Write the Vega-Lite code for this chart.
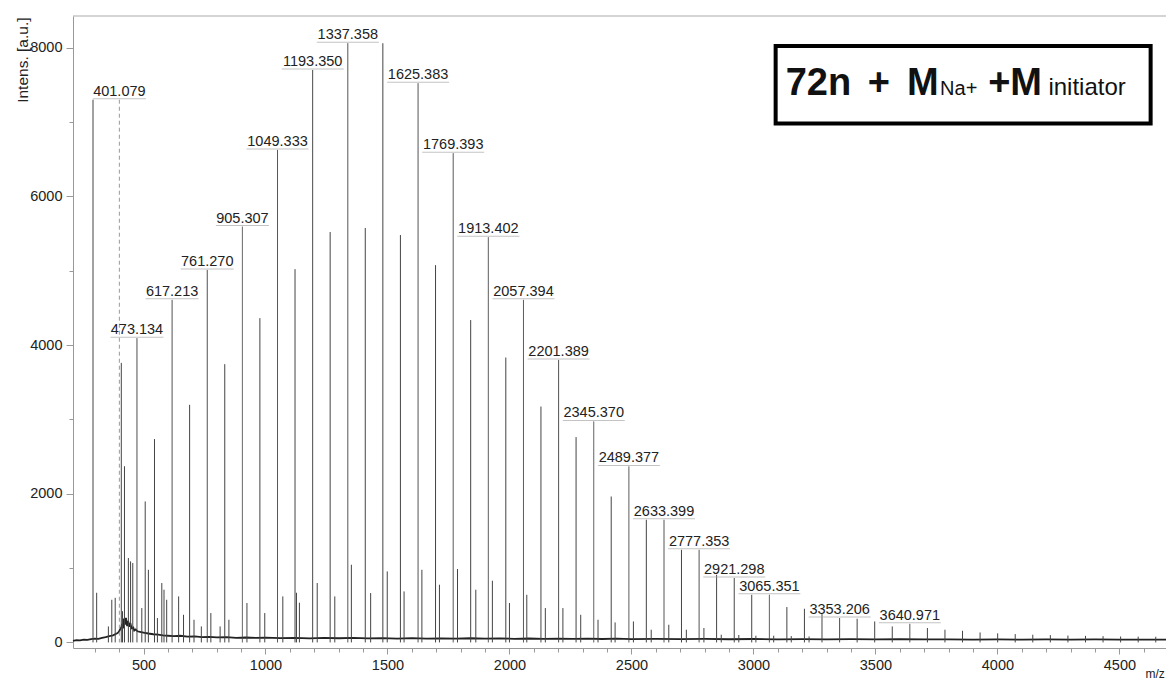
{
  "$schema": "https://vega.github.io/schema/vega-lite/v6.json",
  "width": 1093,
  "height": 632,
  "autosize": "none",
  "padding": {"left": 73, "top": 16, "right": 0, "bottom": 31},
  "background": "white",
  "config": {"view": {"stroke": null}, "font": "Liberation Sans", "axis": {"labelOverlap": false}},
  "datasets": {
    "baseline": [
      {"mz": 211, "intensity": 20}, {"mz": 225, "intensity": 30}, {"mz": 240, "intensity": 28}, {"mz": 255, "intensity": 38},
      {"mz": 270, "intensity": 35}, {"mz": 285, "intensity": 45}, {"mz": 300, "intensity": 50}, {"mz": 315, "intensity": 48},
      {"mz": 330, "intensity": 62}, {"mz": 345, "intensity": 70}, {"mz": 360, "intensity": 85}, {"mz": 375, "intensity": 95},
      {"mz": 390, "intensity": 120}, {"mz": 395, "intensity": 130}, {"mz": 400, "intensity": 150}, {"mz": 405, "intensity": 180},
      {"mz": 410, "intensity": 210}, {"mz": 412, "intensity": 250}, {"mz": 416, "intensity": 190}, {"mz": 420, "intensity": 320},
      {"mz": 424, "intensity": 240}, {"mz": 428, "intensity": 330}, {"mz": 433, "intensity": 220}, {"mz": 437, "intensity": 290},
      {"mz": 442, "intensity": 210}, {"mz": 446, "intensity": 260}, {"mz": 451, "intensity": 190}, {"mz": 458, "intensity": 200},
      {"mz": 462, "intensity": 160}, {"mz": 468, "intensity": 175}, {"mz": 475, "intensity": 150}, {"mz": 490, "intensity": 140},
      {"mz": 505, "intensity": 130}, {"mz": 520, "intensity": 120}, {"mz": 540, "intensity": 110}, {"mz": 560, "intensity": 105},
      {"mz": 580, "intensity": 95}, {"mz": 600, "intensity": 90}, {"mz": 625, "intensity": 85}, {"mz": 650, "intensity": 90},
      {"mz": 680, "intensity": 78}, {"mz": 710, "intensity": 82}, {"mz": 740, "intensity": 72}, {"mz": 770, "intensity": 75},
      {"mz": 800, "intensity": 68}, {"mz": 840, "intensity": 72}, {"mz": 880, "intensity": 62}, {"mz": 920, "intensity": 66},
      {"mz": 960, "intensity": 60}, {"mz": 1000, "intensity": 64}, {"mz": 1060, "intensity": 58}, {"mz": 1120, "intensity": 62},
      {"mz": 1180, "intensity": 55}, {"mz": 1240, "intensity": 60}, {"mz": 1300, "intensity": 56}, {"mz": 1360, "intensity": 60},
      {"mz": 1420, "intensity": 54}, {"mz": 1480, "intensity": 58}, {"mz": 1540, "intensity": 52}, {"mz": 1600, "intensity": 57},
      {"mz": 1660, "intensity": 52}, {"mz": 1720, "intensity": 55}, {"mz": 1780, "intensity": 50}, {"mz": 1840, "intensity": 56},
      {"mz": 1900, "intensity": 50}, {"mz": 1960, "intensity": 54}, {"mz": 2020, "intensity": 49}, {"mz": 2080, "intensity": 53},
      {"mz": 2140, "intensity": 48}, {"mz": 2200, "intensity": 52}, {"mz": 2260, "intensity": 47}, {"mz": 2320, "intensity": 51},
      {"mz": 2380, "intensity": 46}, {"mz": 2440, "intensity": 50}, {"mz": 2500, "intensity": 45}, {"mz": 2600, "intensity": 48},
      {"mz": 2700, "intensity": 44}, {"mz": 2800, "intensity": 47}, {"mz": 2900, "intensity": 43}, {"mz": 3000, "intensity": 46},
      {"mz": 3100, "intensity": 42}, {"mz": 3200, "intensity": 45}, {"mz": 3300, "intensity": 41}, {"mz": 3400, "intensity": 44},
      {"mz": 3500, "intensity": 40}, {"mz": 3600, "intensity": 43}, {"mz": 3700, "intensity": 40}, {"mz": 3800, "intensity": 42},
      {"mz": 3900, "intensity": 39}, {"mz": 4000, "intensity": 42}, {"mz": 4100, "intensity": 38}, {"mz": 4200, "intensity": 41},
      {"mz": 4300, "intensity": 38}, {"mz": 4400, "intensity": 40}, {"mz": 4500, "intensity": 37}, {"mz": 4600, "intensity": 39},
      {"mz": 4691, "intensity": 37}
    ],
    "peaks": [
      {"mz": 293, "intensity": 7300}, {"mz": 308, "intensity": 668}, {"mz": 356, "intensity": 215}, {"mz": 370, "intensity": 574},
      {"mz": 384, "intensity": 600}, {"mz": 409, "intensity": 3760}, {"mz": 414, "intensity": 420}, {"mz": 422, "intensity": 2370},
      {"mz": 438, "intensity": 1135}, {"mz": 447, "intensity": 1090}, {"mz": 456, "intensity": 1068}, {"mz": 493, "intensity": 462},
      {"mz": 507, "intensity": 1896}, {"mz": 520, "intensity": 977}, {"mz": 545, "intensity": 2735}, {"mz": 557, "intensity": 328},
      {"mz": 575, "intensity": 799}, {"mz": 584, "intensity": 709}, {"mz": 595, "intensity": 574}, {"mz": 644, "intensity": 619},
      {"mz": 664, "intensity": 372}, {"mz": 689, "intensity": 3196}, {"mz": 707, "intensity": 305}, {"mz": 737, "intensity": 215},
      {"mz": 776, "intensity": 395}, {"mz": 814, "intensity": 215}, {"mz": 833, "intensity": 3743}, {"mz": 850, "intensity": 305},
      {"mz": 924, "intensity": 530}, {"mz": 977, "intensity": 4362}, {"mz": 997, "intensity": 395}, {"mz": 1071, "intensity": 619},
      {"mz": 1121, "intensity": 5021}, {"mz": 1127, "intensity": 668}, {"mz": 1139, "intensity": 534}, {"mz": 1212, "intensity": 799},
      {"mz": 1265, "intensity": 5520}, {"mz": 1284, "intensity": 619}, {"mz": 1352, "intensity": 1045}, {"mz": 1409, "intensity": 5575},
      {"mz": 1431, "intensity": 664}, {"mz": 1481, "intensity": 8060}, {"mz": 1499, "intensity": 955}, {"mz": 1553, "intensity": 5480},
      {"mz": 1568, "intensity": 686}, {"mz": 1641, "intensity": 977}, {"mz": 1697, "intensity": 5075}, {"mz": 1713, "intensity": 776},
      {"mz": 1787, "intensity": 987}, {"mz": 1841, "intensity": 4336}, {"mz": 1862, "intensity": 709}, {"mz": 1930, "intensity": 830},
      {"mz": 1985, "intensity": 3832}, {"mz": 2000, "intensity": 530}, {"mz": 2071, "intensity": 641}, {"mz": 2129, "intensity": 3173},
      {"mz": 2147, "intensity": 462}, {"mz": 2219, "intensity": 462}, {"mz": 2273, "intensity": 2762}, {"mz": 2292, "intensity": 372},
      {"mz": 2363, "intensity": 305}, {"mz": 2417, "intensity": 1963}, {"mz": 2433, "intensity": 269}, {"mz": 2508, "intensity": 282},
      {"mz": 2561, "intensity": 1650}, {"mz": 2581, "intensity": 171}, {"mz": 2653, "intensity": 238}, {"mz": 2705, "intensity": 1246},
      {"mz": 2725, "intensity": 171}, {"mz": 2797, "intensity": 194}, {"mz": 2849, "intensity": 910}, {"mz": 2868, "intensity": 104},
      {"mz": 2940, "intensity": 100}, {"mz": 2993, "intensity": 641}, {"mz": 3010, "intensity": 90}, {"mz": 3083, "intensity": 90},
      {"mz": 3137, "intensity": 476}, {"mz": 3155, "intensity": 85}, {"mz": 3209, "intensity": 453}, {"mz": 3228, "intensity": 80},
      {"mz": 3281, "intensity": 382}, {"mz": 3425, "intensity": 319}, {"mz": 3497, "intensity": 282}, {"mz": 3569, "intensity": 215},
      {"mz": 3713, "intensity": 194}, {"mz": 3785, "intensity": 171}, {"mz": 3857, "intensity": 157}, {"mz": 3929, "intensity": 134},
      {"mz": 4001, "intensity": 122}, {"mz": 4073, "intensity": 112}, {"mz": 4145, "intensity": 104}, {"mz": 4217, "intensity": 98},
      {"mz": 4289, "intensity": 92}, {"mz": 4361, "intensity": 88}, {"mz": 4433, "intensity": 84}, {"mz": 4505, "intensity": 80},
      {"mz": 4577, "intensity": 78}, {"mz": 4649, "intensity": 76}
    ],
    "labels": [
      {"mz": 401.079, "intensity": 7300, "label": "401.079"},
      {"mz": 473.134, "intensity": 4093, "label": "473.134"},
      {"mz": 617.213, "intensity": 4608, "label": "617.213"},
      {"mz": 761.27, "intensity": 5011, "label": "761.270"},
      {"mz": 905.307, "intensity": 5593, "label": "905.307"},
      {"mz": 1049.333, "intensity": 6625, "label": "1049.333"},
      {"mz": 1193.35, "intensity": 7700, "label": "1193.350"},
      {"mz": 1337.358, "intensity": 8060, "label": "1337.358"},
      {"mz": 1625.383, "intensity": 7522, "label": "1625.383"},
      {"mz": 1769.393, "intensity": 6580, "label": "1769.393"},
      {"mz": 1913.402, "intensity": 5450, "label": "1913.402"},
      {"mz": 2057.394, "intensity": 4608, "label": "2057.394"},
      {"mz": 2201.389, "intensity": 3800, "label": "2201.389"},
      {"mz": 2345.37, "intensity": 2972, "label": "2345.370"},
      {"mz": 2489.377, "intensity": 2367, "label": "2489.377"},
      {"mz": 2633.399, "intensity": 1650, "label": "2633.399"},
      {"mz": 2777.353, "intensity": 1246, "label": "2777.353"},
      {"mz": 2921.298, "intensity": 866, "label": "2921.298"},
      {"mz": 3065.351, "intensity": 641, "label": "3065.351"},
      {"mz": 3353.206, "intensity": 328, "label": "3353.206"},
      {"mz": 3640.971, "intensity": 250, "label": "3640.971"}
    ]
  },
  "layer": [
    {
      "data": {"name": "baseline"},
      "mark": {"type": "line", "color": "#222", "strokeWidth": 1.8},
      "encoding": {
        "x": {
          "field": "mz", "type": "quantitative",
          "scale": {"domain": [211, 4691], "nice": false, "zero": false},
          "axis": {
            "title": "m/z",
            "values": [300,400,500,600,700,800,900,1000,1100,1200,1300,1400,1500,1600,1700,1800,1900,2000,2100,2200,2300,2400,2500,2600,2700,2800,2900,3000,3100,3200,3300,3400,3500,3600,3700,3800,3900,4000,4100,4200,4300,4400,4500,4600],
            "tickCount": 200,
            "format": "d",
            "labelExpr": "datum.value % 500 === 0 ? datum.label : ''",
            "labelOverlap": false,
            "tickSize": {"condition": {"test": "datum.value % 500 === 0", "value": 6}, "value": 4},
            "labelPadding": 4,
            "labelFontSize": 14.5,
            "labelColor": "#222",
            "domainColor": "#999",
            "tickColor": "#999",
            "grid": false,
            "titleFontSize": 12,
            "titleFontWeight": "normal",
            "titleColor": "#222",
            "titleAnchor": "start",
            "titleAlign": "left",
            "titleBaseline": "alphabetic",
            "titleX": 1072,
            "titleY": 29
          }
        },
        "y": {
          "field": "intensity", "type": "quantitative",
          "scale": {"domain": [-75, 8426], "nice": false, "zero": false},
          "axis": {
            "title": "Intens. [a.u.]",
            "values": [0,1000,2000,3000,4000,5000,6000,7000,8000],
            "tickCount": 100,
            "format": "d",
            "labelExpr": "datum.value % 2000 === 0 ? datum.label : ''",
            "labelOverlap": false,
            "tickSize": {"condition": {"test": "datum.value % 2000 === 0", "value": 7}, "value": 4},
            "labelPadding": 4,
            "labelFontSize": 14.5,
            "labelColor": "#222",
            "domainColor": "#999",
            "tickColor": "#999",
            "grid": false,
            "titleFontSize": 15.5,
            "titleFontWeight": "normal",
            "titleColor": "#222",
            "titleAngle": 270,
            "titleAlign": "right",
            "titleBaseline": "middle",
            "titleX": -51,
            "titleY": 1
          }
        }
      }
    },
    {
      "data": {"values": [{}]},
      "mark": {"type": "rule", "color": "#aaa", "strokeWidth": 1},
      "encoding": {"y": {"datum": 8426}}
    },
    {
      "data": {"name": "peaks"},
      "mark": {"type": "rule", "color": "#444", "strokeWidth": 1},
      "encoding": {
        "x": {"field": "mz", "type": "quantitative"},
        "y": {"field": "intensity", "type": "quantitative"},
        "y2": {"datum": 0}
      }
    },
    {
      "data": {"name": "labels"},
      "mark": {"type": "rule", "strokeWidth": 1},
      "encoding": {
        "x": {"field": "mz", "type": "quantitative"},
        "y": {"field": "intensity", "type": "quantitative"},
        "y2": {"datum": 0},
        "color": {"condition": {"test": "datum.mz < 450", "value": "#999"}, "value": "#444"},
        "strokeDash": {"condition": {"test": "datum.mz < 450", "value": [4, 3]}, "value": [1, 0]}
      }
    },
    {
      "data": {"name": "labels"},
      "mark": {"type": "tick", "orient": "horizontal", "thickness": 1, "color": "#aaa", "yOffset": -1},
      "encoding": {
        "x": {"field": "mz", "type": "quantitative"},
        "y": {"field": "intensity", "type": "quantitative"},
        "size": {"condition": {"test": "datum.mz < 1000", "value": 53}, "value": 62}
      }
    },
    {
      "data": {"name": "labels"},
      "mark": {"type": "text", "align": "center", "baseline": "alphabetic", "dy": -4, "fontSize": 14.5, "color": "#222"},
      "encoding": {
        "x": {"field": "mz", "type": "quantitative"},
        "y": {"field": "intensity", "type": "quantitative"},
        "text": {"field": "label", "type": "nominal"}
      }
    },
    {
      "data": {"values": [{}]},
      "mark": {"type": "rect", "fill": "white", "stroke": "black", "strokeWidth": 4},
      "encoding": {
        "x": {"datum": 3091}, "x2": {"datum": 4628},
        "y": {"datum": 8023}, "y2": {"datum": 6979}
      }
    },
    {
      "data": {"values": [{}]},
      "mark": {"type": "text", "text": "72n", "align": "left", "baseline": "alphabetic", "fontSize": 38, "fontWeight": "bold", "color": "#111"},
      "encoding": {"x": {"datum": 3132}, "y": {"datum": 7365}}
    },
    {
      "data": {"values": [{}]},
      "mark": {"type": "text", "text": "+", "align": "left", "baseline": "alphabetic", "fontSize": 38, "fontWeight": "bold", "color": "#111"},
      "encoding": {"x": {"datum": 3469}, "y": {"datum": 7365}}
    },
    {
      "data": {"values": [{}]},
      "mark": {"type": "text", "text": "M", "align": "left", "baseline": "alphabetic", "fontSize": 38, "fontWeight": "bold", "color": "#111"},
      "encoding": {"x": {"datum": 3629}, "y": {"datum": 7365}}
    },
    {
      "data": {"values": [{}]},
      "mark": {"type": "text", "text": "Na+", "align": "left", "baseline": "alphabetic", "fontSize": 20, "color": "#111"},
      "encoding": {"x": {"datum": 3765}, "y": {"datum": 7365}}
    },
    {
      "data": {"values": [{}]},
      "mark": {"type": "text", "text": "+M", "align": "left", "baseline": "alphabetic", "fontSize": 38, "fontWeight": "bold", "color": "#111"},
      "encoding": {"x": {"datum": 3962}, "y": {"datum": 7365}}
    },
    {
      "data": {"values": [{}]},
      "mark": {"type": "text", "text": "initiator", "align": "left", "baseline": "alphabetic", "fontSize": 24, "color": "#111"},
      "encoding": {"x": {"datum": 4209}, "y": {"datum": 7365}}
    }
  ]
}
